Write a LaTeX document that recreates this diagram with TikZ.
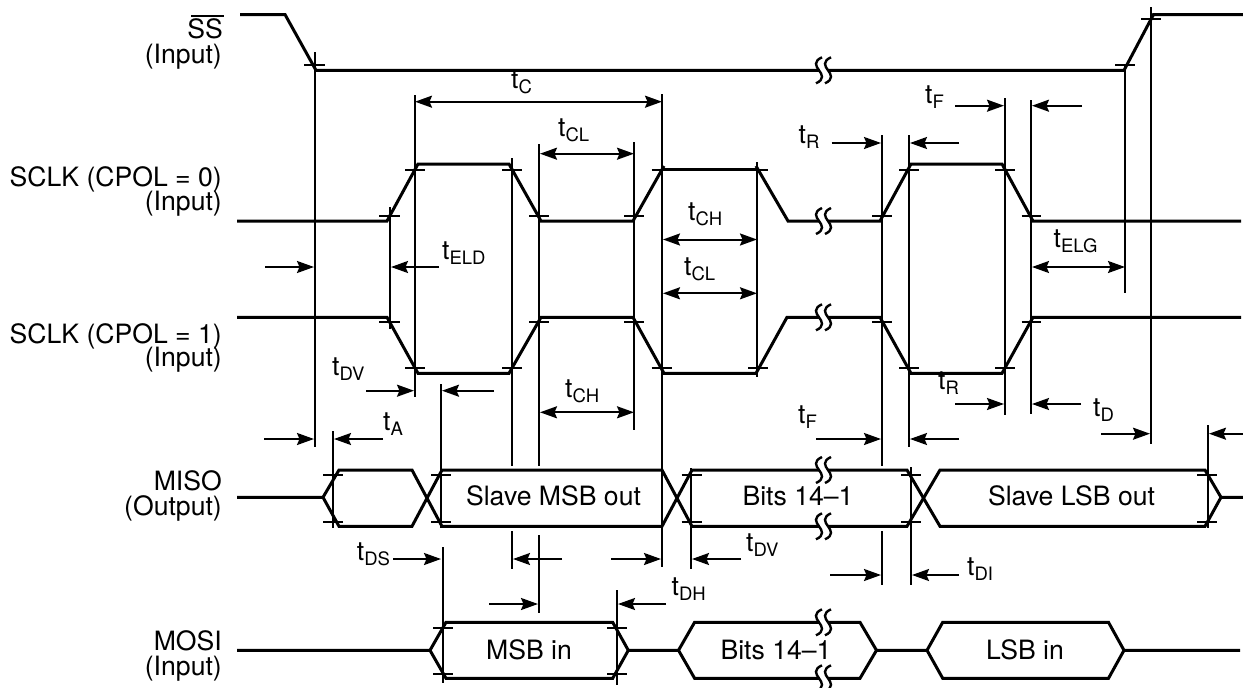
\documentclass[tikz,border=0pt]{standalone}
\usepackage{fontspec}
\setmainfont{TeX Gyre Heros}
\usetikzlibrary{arrows.meta}
\newcommand\tsub[1]{t\raisebox{-5pt}{\fontsize{18.5}{18.5}\selectfont #1}}
\tikzset{
  sig/.style={line width=3pt,black},
  extl/.style={line width=2pt,black},
  tk/.style={line width=2pt,black},
  tipk/.tip={Stealth[length=17pt,width=12pt,inset=2.5pt]},
  dim/.style={line width=2pt,black,-tipk},
  ddim/.style={line width=2pt,black,tipk-tipk},
  lab/.style={anchor=base west,inner sep=0pt,font=\fontsize{26.6}{26.6}\selectfont},
  sgn/.style={anchor=base east,inner sep=0pt,font=\fontsize{26.6}{26.6}\selectfont},
  txt/.style={anchor=base,inner sep=0pt,font=\fontsize{26.6}{26.6}\selectfont},
  brkl/.style={line width=2.4pt,black}
}
\newcommand\brk[2]{%
  \fill[white] ({#1-2},{#2-13}) .. controls ({#1-11},{#2-9}) and ({#1-8},{#2-4}) .. ({#1-5},{#2})
     .. controls ({#1-2},{#2+4}) and ({#1+1},{#2+9}) .. ({#1-8},{#2+13}) -- ({#1+1},{#2+13})
     .. controls ({#1+10},{#2+9}) and ({#1+7},{#2+4}) .. ({#1+4},{#2})
     .. controls ({#1+1},{#2-4}) and ({#1-2},{#2-9}) .. ({#1+7},{#2-13}) -- cycle;
  \draw[brkl] ({#1-2},{#2-13}) .. controls ({#1-11},{#2-9}) and ({#1-8},{#2-4}) .. ({#1-5},{#2})
     .. controls ({#1-2},{#2+4}) and ({#1+1},{#2+9}) .. ({#1-8},{#2+13});
  \draw[brkl] ({#1+7},{#2-13}) .. controls ({#1-2},{#2-9}) and ({#1+1},{#2-4}) .. ({#1+4},{#2})
     .. controls ({#1+7},{#2+4}) and ({#1+10},{#2+9}) .. ({#1+1},{#2+13});
}
\begin{document}
\begin{tikzpicture}[x=1pt,y=-1pt]
\fill[white] (0,0) rectangle (1243,688);
\useasboundingbox (0,0) rectangle (1243,688);
\clip (0,0) rectangle (1243,688);

% extension lines
\foreach \x/\a/\b in {315/52/447, 390/207/329, 415/95/397, 441/384/528, 442.7/547/683,
   512/158/466, 512/531/569, 539/144/466, 539/535/613, 634/142/430, 662/94/567, 757.3/162/377,
   882/135/466, 882/531/585, 909/135/447, 1005/98/415, 1031/100/414, 1125/65/293, 1151/7/444,
   1208/425/528, 911/467/585, 691/468/569, 332.7/431/528, 617/590/685}
  {\draw[extl] (\x,\a) -- (\x,\b);}

% ticks
\foreach \x/\a/\b in {304/325/65, 1115/1135/65, 1141/1161/18.7,
   379/400/216, 405/425/169.7, 502/522/169.7, 529/549/216, 624/644/216, 651.5/672/169.7, 748/768/169.7,
   872/892/216, 899/919/169.7, 995/1015/169.7, 1021.5/1041/216,
   379/400/321.7, 405/425/367.7, 502/522/367.7, 529/549/321.7, 624/644/321.7, 651.5/672/367.7, 748/768/367.7,
   872/892/321.7, 899/919/367.7, 995/1015/367.7, 1021.5/1041/321.7,
   323/343/475, 431/451/475, 681.5/701.5/475, 901/921/475, 1197/1217/475,
   323/343/521.5, 431/451/521.5, 681.5/701.5/521.5, 901/921/521.5, 1197/1217/521.5,
   433/453/628.3, 607/627/628.3, 433/453/674, 607/627/674}
  {\draw[tk] (\x,\b) -- (\a,\b);}

% signals
\draw[sig] (240,14.5) -- (285,14.5) -- (316,70.3) -- (1124,70.3) -- (1153.5,14.5) -- (1243,14.5);
\draw[sig] (237,221) -- (387,221) -- (418,164) -- (509,164) -- (541,221) -- (633,221) -- (664,166);
\draw[sig] (662,169.5) -- (757,169.5);
\draw[sig] (756,166) -- (788,221) -- (880,221) -- (911,164) -- (1002,164) -- (1033,221) -- (1241,221);
\draw[sig] (237,317.3) -- (387,317.3) -- (418,373.3) -- (509,373.3) -- (541,317.3) -- (633,317.3)
   -- (664,373.3) -- (756,373.3) -- (787,317.3) -- (880,317.3) -- (911,373.3) -- (1002,373.3)
   -- (1033,317.3) -- (1241,317.3);
% MISO
\draw[sig] (237,497.3) -- (323,497.3) -- (339,470) -- (412,470) -- (442,526.3) -- (662,526.3)
   -- (692,470) -- (907,470) -- (940,526.3) -- (1205,526.3) -- (1221,497.3) -- (1243,497.3);
\draw[sig] (323,497.3) -- (339,526.3) -- (412,526.3) -- (442,470) -- (662,470) -- (692,526.3)
   -- (907,526.3) -- (940,470) -- (1205,470) -- (1221,497.3);
% MOSI
\draw[sig] (237,650.3) -- (430,650.3) -- (446,622.3) -- (612.7,622.3) -- (628.3,650.3) -- (678.5,650.3)
   -- (694.6,622.3) -- (860,622.3) -- (876.5,650.3) -- (927,650.3) -- (942.7,622.3) -- (1108.5,622.3)
   -- (1124,650.3) -- (1240,650.3);
\draw[sig] (430,650.3) -- (446,678.3) -- (612.7,678.3) -- (628.3,650.3);
\draw[sig] (678.5,650.3) -- (694.6,678.3) -- (860,678.3) -- (876.5,650.3);
\draw[sig] (927,650.3) -- (942.7,678.3) -- (1108.5,678.3) -- (1124,650.3);

% breaks
\brk{824}{70.3}
\brk{824}{221}
\brk{824}{317.3}
\brk{824}{470}
\brk{824}{526.3}
\brk{824}{622.3}
\brk{824}{678.3}

% dimension arrows
\draw[ddim] (415,101.7) -- (662,101.7);
\draw[ddim] (540,153.7) -- (634,153.7);
\draw[ddim] (663,239.5) -- (757,239.5);
\draw[ddim] (663,293.3) -- (757,293.3);
\draw[ddim] (540,412.3) -- (634,412.3);
\draw[ddim] (1032,267) -- (1125,267);
\foreach \a/\b/\y in {265/314/267, 439/391/267, 366/414/390.7, 494/442/390.7, 264/314/439, 383/334/439,
   955/1004/105.7, 1082/1032/105.7, 831.5/881/143, 959/910/143, 955/1004/404, 1081/1032/404,
   816/881/439, 959/910/439, 1101/1150/433.7, 1243/1209/433.7, 393/441/559, 562/513/559, 611/661/559,
   741/692/559, 489/538/604, 666/618/604, 830/881/575, 959/912/575}
  {\draw[dim] (\a,\y) -- (\b,\y);}

% timing labels
\node[lab] (tc)    at (511,88)    {\tsub{C}};
\node[lab] (tcl1)  at (558,136)   {\tsub{CL}};
\node[lab] (tch1)  at (688,220)   {\tsub{CH}};
\node[lab] (tcl2)  at (684,275)   {\tsub{CL}};
\node[lab] (tr1)   at (798.5,143) {\tsub{R}};
\node[lab] (tf1)   at (925,103)   {\tsub{F}};
\node[lab] (teld)  at (442,259)   {\tsub{ELD}};
\node[lab] (telg)  at (1053.5,247){\tsub{ELG}};
\node[lab] (tdv1)  at (332,375)   {\tsub{DV}};
\node[lab] (tch2)  at (565,397.7) {\tsub{CH}};
\node[lab] (ta)    at (383,430.7) {\tsub{A}};
\node[lab] (tr2)   at (938,389)   {\tsub{R}};
\node[lab] (tf2)   at (798,423)   {\tsub{F}};
\node[lab] (td)    at (1093,416.7){\tsub{D}};
\node[lab] (tds)   at (356.7,560) {\tsub{DS}};
\node[lab] (tdv2)  at (746,551)   {\tsub{DV}};
\node[lab] (tdh)   at (671.5,595) {\tsub{DH}};
\node[lab] (tdi)   at (967,575)   {\tsub{DI}};

% signal names
\draw[line width=2pt] (191,15.7) -- (224,15.7);
\node[sgn] (ss)   at (223,38.5)  {SS};
\node[sgn] (ssi)  at (222,63.5)  {(Input)};
\node[sgn] (clk0) at (222,186.5) {SCLK (CPOL = 0)};
\node[sgn] (clk0i) at (222,210)  {(Input)};
\node[sgn] (clk1) at (222,343)   {SCLK (CPOL = 1)};
\node[sgn] (clk1i) at (222,366.7){(Input)};
\node[sgn] (miso) at (222,490)   {MISO};
\node[sgn] (misoo) at (222,515)  {(Output)};
\node[sgn] (mosi) at (222,650)   {MOSI};
\node[sgn] (mosii) at (222,675)  {(Input)};

% bus texts
\node[txt] (t1) at (553.5,505.5) {Slave MSB out};
\node[txt] (t2) at (798,505.5)   {Bits 14--1};
\node[txt] (t3) at (1071.5,505.5){Slave LSB out};
\node[txt] (t4) at (529,659)     {MSB in};
\node[txt] (t5) at (776,659)     {Bits 14--1};
\node[txt] (t6) at (1025,659)    {LSB in};
\end{tikzpicture}
\end{document}
